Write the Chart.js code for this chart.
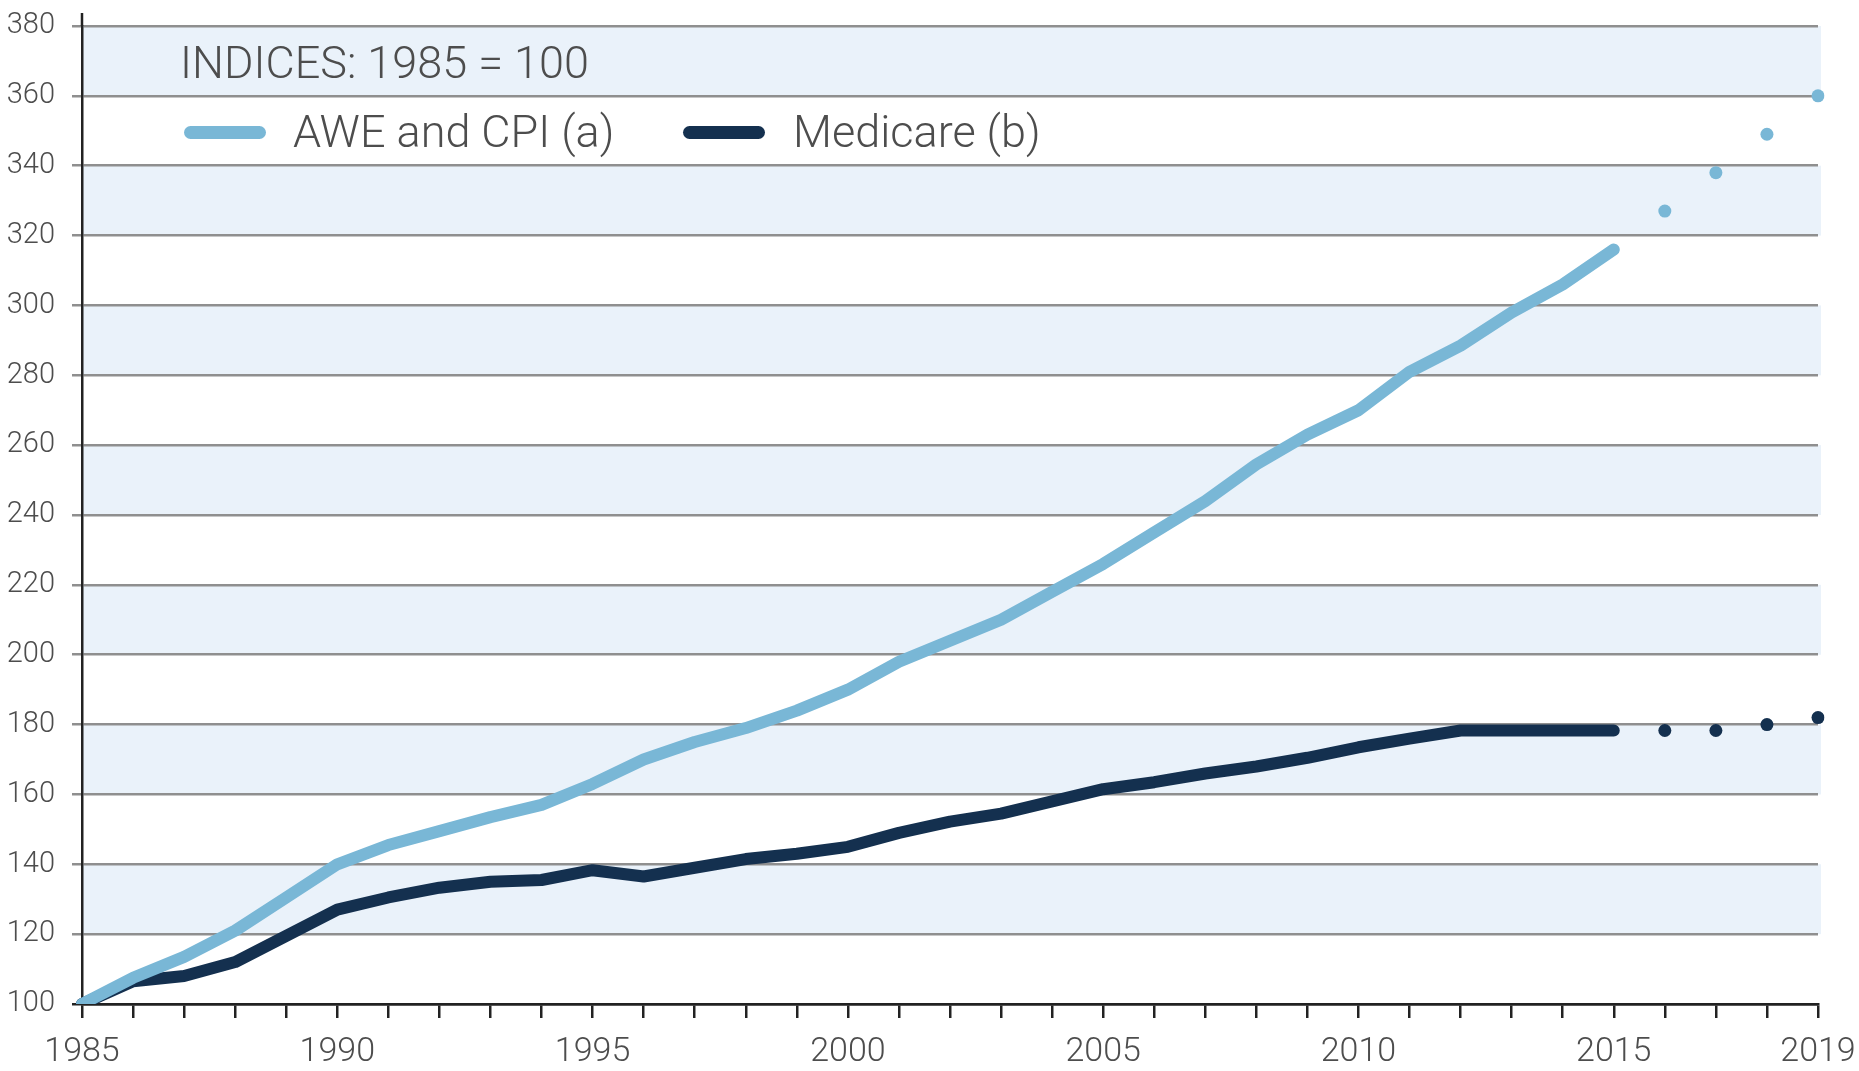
<!DOCTYPE html>
<html>
<head>
<meta charset="utf-8">
<script src="https://cdn.jsdelivr.net/npm/chart.js@4.4.1/dist/chart.umd.min.js"></script>
<style>
  html, body { margin: 0; padding: 0; background: #fff; }
  #wrap { position: relative; width: 1859px; height: 1071px; }
  .lg { position: absolute; font-family: Roboto, "Liberation Sans", sans-serif; font-weight: 300;
        font-size: 45px; line-height: 45px; color: #4d4d4d; white-space: nowrap; }
  .sw { position: absolute; height: 13px; border-radius: 7px; }
</style>
</head>
<body>
<div id="wrap">
  <canvas id="myChart" width="1859" height="1071"></canvas>
  <div class="lg" style="left:180px; top:40px;">INDICES: 1985 = 100</div>
  <div class="sw" style="left:184px; top:126px; width:82px; background:#79b7d6;"></div>
  <div class="lg" style="left:293px; top:109px;" id="lab-awe"></div>
  <div class="sw" style="left:683px; top:126px; width:82px; background:#14304f;"></div>
  <div class="lg" style="left:793px; top:109px;" id="lab-med"></div>
</div>
<script>
const years = ['1985', '1986', '1987', '1988', '1989', '1990', '1991', '1992', '1993', '1994',
    '1995', '1996', '1997', '1998', '1999', '2000', '2001', '2002', '2003', '2004',
    '2005', '2006', '2007', '2008', '2009', '2010', '2011', '2012', '2013', '2014',
    '2015', '2016', '2017', '2018', '2019'];
const tickLabels = ['1985', '1990', '1995', '2000', '2005', '2010', '2015', '2019'];

// 1985-2015 actual, 2016-2019 shown as dots
const aweLine = [100, 107.5, 113.5, 121, 130.5, 140, 145.5, 149.5, 153.5, 157,
    163, 170, 175, 179, 184, 190, 198, 204, 210, 218,
    226, 235, 244, 254.5, 263, 270, 281, 288.5, 298, 306, 316];
const aweDots = [327, 338, 349, 360];
const medicareLine = [100, 106.5, 108, 112, 119.5, 127, 130.5, 133.3, 135, 135.5,
    138.3, 136.5, 139, 141.5, 143, 145, 149, 152.2, 154.5, 158,
    161.5, 163.5, 166, 168, 170.5, 173.5, 176, 178.3, 178.3, 178.3, 178.3];
const medicareDots = [178.3, 178.3, 180, 182];

const seriesNames = ['AWE and CPI (a)', 'Medicare (b)'];
const lightBlue = '#79b7d6';
const navy = '#14304f';

document.getElementById('lab-awe').textContent = seriesNames[0];
document.getElementById('lab-med').textContent = seriesNames[1];

const pad = (arr, before, after) => Array(before).fill(null).concat(arr, Array(after).fill(null));

// alternating light blue bands behind the grid
const bands = {
    id: 'bands',
    beforeDraw(chart) {
        const { ctx, chartArea, scales } = chart;
        ctx.save();
        ctx.fillStyle = '#eaf2fa';
        for (let v = 120; v < 380; v += 40) {
            const top = scales.y.getPixelForValue(v + 20);
            const bot = scales.y.getPixelForValue(v);
            ctx.fillRect(chartArea.left, top, chartArea.right - chartArea.left + 3, bot - top);
        }
        ctx.restore();
    },
    afterDraw(chart) {
        // y axis pokes a little above the top gridline
        const { ctx, chartArea } = chart;
        ctx.save();
        ctx.strokeStyle = '#222';
        ctx.lineWidth = 2.5;
        ctx.beginPath();
        ctx.moveTo(chartArea.left, chartArea.top - 13);
        ctx.lineTo(chartArea.left, chartArea.top);
        ctx.stroke();
        ctx.restore();
    }
};

const ctx = document.getElementById('myChart').getContext('2d');
const myChart = new Chart(ctx, {         //eslint-disable-line
    type: 'line',
    data: {
        labels: years,
        datasets: [
            {
                label: seriesNames[0],
                data: pad(aweLine, 0, aweDots.length),
                borderColor: lightBlue,
                borderWidth: 12,
                borderCapStyle: 'round',
                borderJoinStyle: 'round',
                pointRadius: 0,
                tension: 0
            },
            {
                label: seriesNames[1],
                data: pad(medicareLine, 0, medicareDots.length),
                borderColor: navy,
                borderWidth: 12,
                borderCapStyle: 'round',
                borderJoinStyle: 'round',
                pointRadius: 0,
                tension: 0
            },
            {
                label: seriesNames[0] + ' dots',
                data: pad(aweDots, aweLine.length, 0),
                showLine: false,
                pointRadius: 6.5,
                pointBorderWidth: 0,
                pointBackgroundColor: lightBlue
            },
            {
                label: seriesNames[1] + ' dots',
                data: pad(medicareDots, medicareLine.length, 0),
                showLine: false,
                pointRadius: 6.5,
                pointBorderWidth: 0,
                pointBackgroundColor: navy
            }
        ]
    },
    options: {
        responsive: false,
        devicePixelRatio: 1,
        animation: false,
        layout: { padding: { left: 0, right: 41, top: 26, bottom: 0 } },
        plugins: {
            legend: { display: false },
            tooltip: { enabled: false }
        },
        scales: {
            x: {
                type: 'category',
                offset: false,
                afterFit(scale) {
                    scale.height = 67;
                    scale.paddingLeft = 0;
                    scale.paddingRight = 0;
                },
                grid: {
                    drawOnChartArea: false,
                    drawTicks: true,
                    tickLength: 14,
                    color: '#222',
                    lineWidth: 2.5
                },
                border: { display: true, color: '#222', width: 2.5 },
                ticks: {
                    autoSkip: false,
                    maxRotation: 0,
                    padding: 14,
                    color: '#4d4d4d',
                    font: { family: 'Roboto, "Liberation Sans", sans-serif', size: 34, weight: '300' },
                    callback: (val, i) => tickLabels.includes(years[i]) ? years[i] : ''
                }
            },
            y: {
                min: 100,
                max: 380,
                afterFit(scale) {
                    scale.width = 82;
                    scale.paddingTop = 0;
                    scale.paddingBottom = 0;
                },
                grid: {
                    color: (c) => c.tick && c.tick.value === 100 ? '#222' : '#8f8f8f',
                    lineWidth: 2.5,
                    tickLength: 10
                },
                border: { display: true, color: '#222', width: 2.5 },
                ticks: {
                    stepSize: 20,
                    padding: 17,
                    color: '#4d4d4d',
                    font: { family: 'Roboto, "Liberation Sans", sans-serif', size: 29, weight: '300' }
                }
            }
        }
    },
    plugins: [bands]
});
</script>
</body>
</html>
